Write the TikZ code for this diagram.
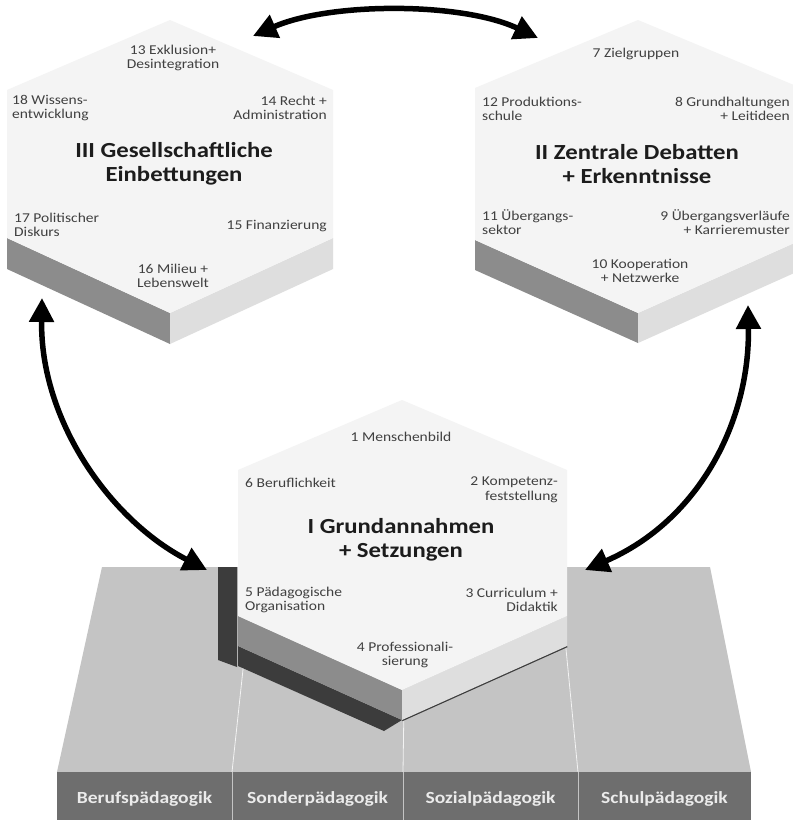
\documentclass[tikz,border=0pt]{standalone}
\usepackage{fontspec}
\setmainfont{Carlito}[FakeStretch=1.15]
\usetikzlibrary{arrows.meta}
\definecolor{topface}{HTML}{F4F4F4}
\definecolor{darkside}{HTML}{8C8C8C}
\definecolor{lightside}{HTML}{DEDEDE}
\definecolor{plattop}{HTML}{C4C4C4}
\definecolor{platfront}{HTML}{6E6E6E}
\definecolor{shadowc}{HTML}{3C3C3C}
\definecolor{itemc}{HTML}{404040}
\definecolor{titlec}{HTML}{1C1C1C}
\begin{document}
\begin{tikzpicture}[x=1pt,y=-1pt,
  item/.style={text=itemc,font=\fontsize{13.5}{14.5}\selectfont,inner sep=0pt},
  itemL/.style={item,anchor=west,align=left},
  itemR/.style={item,anchor=east,align=right},
  itemC/.style={item,align=center},
  htitle/.style={text=titlec,font=\bfseries\fontsize{21.5}{23.5}\selectfont,align=center,inner sep=0pt},
  plab/.style={text=white!92!black,font=\bfseries\fontsize{17}{19}\selectfont,inner sep=0pt},
  bigarrow/.style={line width=5.5pt,{Triangle[length=24pt,width=24pt]}-{Triangle[length=24pt,width=24pt]}}
]
\useasboundingbox (0,0) rectangle (793,820);
\clip (0,0) rectangle (793,820);
\fill[white] (0,0) rectangle (793,820);

% ---------- platform ----------
\fill[plattop] (102,567) -- (710,567) -- (751,772) -- (57,772) -- cycle;
\fill[platfront] (57,772) rectangle (751,820);
\draw[white!80!plattop,line width=0.8pt] (254,567) -- (232,772) (406,567) -- (403,772) (558,567) -- (578,772);
\draw[plattop,line width=1pt] (232,772) -- (232,820) (403,772) -- (403,820) (578,772) -- (578,820);
\node[plab] (pb1) at (144.5,799) {Berufspädagogik};
\node[plab] (pb2) at (317.5,799) {Sonderpädagogik};
\node[plab] (pb3) at (490.5,799) {Sozialpädagogik};
\node[plab] (pb4) at (664.5,799) {Schulpädagogik};

% ---------- hexagon I (bottom) ----------
\fill[shadowc] (218,567) -- (237,567) -- (237,667) -- (218,660) -- cycle;
\fill[shadowc] (238,646) -- (402,720) -- (384,731) -- (238,666) -- cycle;
\draw[shadowc,line width=2.5pt] (402,720) -- (567,646);
\fill[darkside] (238,616) -- (402,690) -- (402,720) -- (238,646) -- cycle;
\fill[lightside] (402,690) -- (567,616) -- (567,646) -- (402,720) -- cycle;
\fill[topface] (238,470) -- (402,400) -- (567,470) -- (567,616) -- (402,690) -- (238,616) -- cycle;
\node[htitle] (t1) at (401,540) {I Grundannahmen\\+ Setzungen};
\node[itemC] (i1) at (401,437) {1 Menschenbild};
\node[itemL] (i6) at (245,483) {6 Beruflichkeit};
\node[itemR] (i2) at (558,490) {2 Kompetenz-\\feststellung};
\node[itemL] (i5) at (245,600) {5 Pädagogische\\Organisation};
\node[itemR] (i3) at (558,600) {3 Curriculum +\\Didaktik};
\node[itemC] (i4) at (405,655) {4 Professionali-\\sierung};

% ---------- hexagon III (top left) ----------
\fill[darkside] (7,238) -- (170,313) -- (170,344) -- (7,269) -- cycle;
\fill[lightside] (170,313) -- (333,238) -- (333,269) -- (170,344) -- cycle;
\fill[topface] (7,90) -- (170,20) -- (333,90) -- (333,238) -- (170,313) -- (7,238) -- cycle;
\node[htitle] (t3) at (174,164) {III Gesellschaftliche\\Einbettungen};
\node[itemC] (i13) at (173,58) {13 Exklusion+\\Desintegration};
\node[itemL] (i18) at (12,108) {18 Wissens-\\entwicklung};
\node[itemR] (i14) at (327,108) {14 Recht +\\Administration};
\node[itemL] (i17) at (14,225) {17 Politischer\\Diskurs};
\node[itemR] (i15) at (327,226) {15 Finanzierung};
\node[itemC] (i16) at (173,276) {16 Milieu +\\Lebenswelt};

% ---------- hexagon II (top right) ----------
\fill[darkside] (475,240) -- (638,313) -- (638,343) -- (475,270) -- cycle;
\fill[lightside] (638,313) -- (801,240) -- (801,270) -- (638,343) -- cycle;
\fill[topface] (475,88) -- (638,20) -- (801,88) -- (801,240) -- (638,313) -- (475,240) -- cycle;
\node[htitle] (t2) at (637,164) {II Zentrale Debatten\\+ Erkenntnisse};
\node[itemC] (i7) at (636,54) {7 Zielgruppen};
\node[itemL] (i12) at (482,109) {12 Produktions-\\schule};
\node[itemR] (i8) at (790,109) {8 Grundhaltungen\\+ Leitideen};
\node[itemL] (i11) at (482,222) {11 Übergangs-\\sektor};
\node[itemR] (i9) at (790,222) {9 Übergangsverläufe\\+ Karrieremuster};
\node[itemC] (i10) at (640,271) {10 Kooperation\\+ Netzwerke};

% ---------- arrows ----------
\coordinate (a3t) at (253,36);
\coordinate (a2t) at (538,38);
\coordinate (a3b) at (42,298);
\coordinate (a1l) at (207,570);
\coordinate (a2b) at (748,305);
\coordinate (a1r) at (585,570);
\draw[bigarrow] (a3t) .. controls (330,2) and (462,2) .. (a2t);
\draw[bigarrow] (a3b) .. controls (40,420) and (110,520) .. (a1l);
\draw[bigarrow] (a2b) .. controls (750,420) and (700,520) .. (a1r);
\end{tikzpicture}
\end{document}
